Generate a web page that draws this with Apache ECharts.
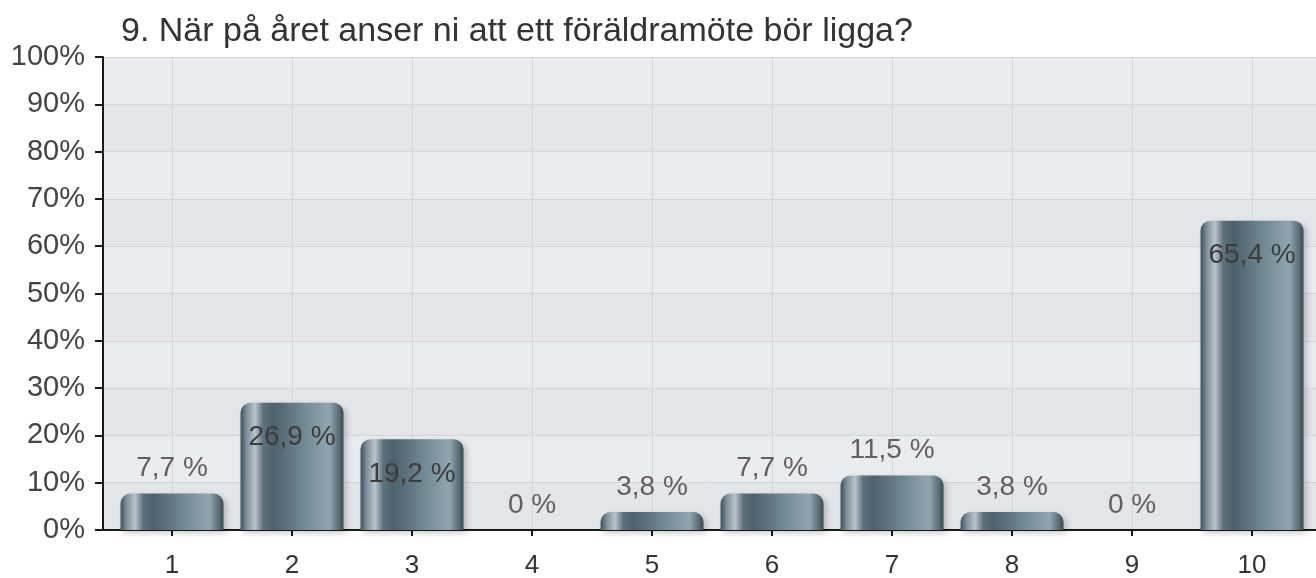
<!DOCTYPE html>
<html>
<head>
<meta charset="utf-8">
<script src="https://cdn.jsdelivr.net/npm/echarts@6/dist/echarts.min.js"></script>
<style>
  html, body { margin: 0; padding: 0; background: #fff; }
  #chart { width: 1316px; height: 578px; }
</style>
</head>
<body>
<div id="chart"></div>
<script>
// svarsalternativ 1..10 och andel i procent
const categories = [1, 2, 3, 4, 5, 6, 7, 8, 9, 10]
const percentValues = [7.7, 26.9, 19.2, 0, 3.8, 7.7, 11.5, 3.8, 0, 65.4]

const FONT = 'Liberation Sans, Arial, sans-serif'
const chart = echarts.init(document.getElementById('chart'))

// metallisk cylinder-gradient som i originalet
const barGradient = new echarts.graphic.LinearGradient(0, 0, 1, 0, [
  { offset: 0, color: '#3e525c' },
  { offset: 0.06, color: '#7d8f98' },
  { offset: 0.14, color: '#b9c5cb' },
  { offset: 0.22, color: '#5d717b' },
  { offset: 0.32, color: '#4c616c' },
  { offset: 0.6, color: '#6f8792' },
  { offset: 0.86, color: '#90a6b1' },
  { offset: 0.95, color: '#5c717b' },
  { offset: 1, color: '#3a4c55' }
])

function fmt(v) {
  return String(v).replace('.', ',') + ' %'
}

// höga staplar har etiketten inuti, låga ovanför
const data = categories.map((c, i) => {
  const v = percentValues[i]
  const inside = v >= 15
  return {
    value: [c, v],
    label: inside
      ? { position: 'insideTop', distance: 21, color: '#3c3c3c' }
      : { position: 'top', distance: 11, color: '#606060' }
  }
})

chart.setOption({
  animation: false,
  title: {
    text: '9. När på året anser ni att ett föräldramöte bör ligga?',
    left: 116,
    top: 10,
    textStyle: { fontFamily: FONT, fontSize: 34, fontWeight: 'normal', color: '#333' }
  },
  // outerBoundsMode none: låt inte v6 krympa rutnätet för de stora etiketterna
  grid: { left: 103, right: 0, top: 57, bottom: 48, containLabel: false, outerBoundsMode: 'none' },
  xAxis: {
    type: 'value',
    min: 0.425,
    max: 10.533,
    axisLine: { show: true, onZero: false, lineStyle: { color: '#1a1a1a', width: 2 } },
    axisTick: { show: true, customValues: categories, length: 6, lineStyle: { color: '#1a1a1a', width: 2 } },
    axisLabel: {
      customValues: categories,
      margin: 23,
      color: '#333',
      fontSize: 26,
      fontFamily: FONT
    },
    splitLine: { show: true, lineStyle: { color: '#d4d5d8', width: 1 } }
  },
  yAxis: {
    type: 'value',
    min: 0,
    max: 100,
    interval: 10,
    axisLine: { show: true, lineStyle: { color: '#1a1a1a', width: 2 } },
    axisTick: { show: true, length: 8, lineStyle: { color: '#1a1a1a', width: 2 } },
    axisLabel: {
      formatter: (v) => v + '%',
      margin: 18,
      color: '#444',
      fontSize: 29,
      fontFamily: FONT
    },
    splitLine: { show: true, lineStyle: { color: '#d4d5d8', width: 1 } },
    splitArea: { show: true, areaStyle: { color: ['#e4e5e8', '#e9ebee'] } }
  },
  series: [{
    type: 'bar',
    barWidth: 103,
    data: data,
    itemStyle: {
      color: barGradient,
      borderRadius: [10, 10, 0, 0],
      shadowColor: 'rgba(0,0,0,0.22)',
      shadowBlur: 6,
      shadowOffsetX: 3,
      shadowOffsetY: 3
    },
    label: {
      show: true,
      formatter: (p) => fmt(p.value[1]),
      fontSize: 28,
      fontFamily: FONT
    }
  }]
})
</script>
</body>
</html>
